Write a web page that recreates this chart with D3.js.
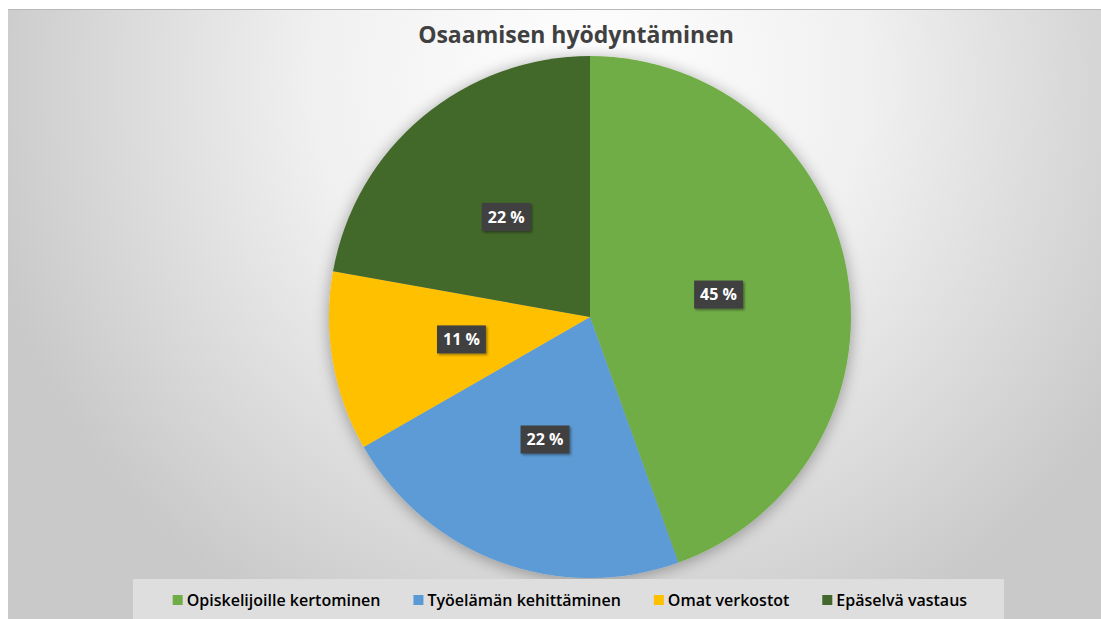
<!DOCTYPE html>
<html>
<head>
<meta charset="utf-8">
<script src="https://cdn.jsdelivr.net/npm/d3@7"></script>
<style>
  html, body { margin: 0; padding: 0; background: #fff; }
  svg { display: block; font-family: "Open Sans", "Noto Sans", sans-serif; }
</style>
</head>
<body>
<svg id="chart" width="1101" height="619"></svg>
<script>
const title = 'Osaamisen hyödyntäminen';
const categories = ['Opiskelijoille kertominen', 'Työelämän kehittäminen', 'Omat verkostot', 'Epäselvä vastaus'];
const values = [44.5, 22.2, 11.1, 22.2];
const labels = ['45 %', '22 %', '11 %', '22 %'];
const colors = ['#70ad47', '#5b9bd5', '#ffc000', '#43682b'];

const width = 1101, height = 619;
const svg = d3.select('#chart');
const defs = svg.append('defs');

// background gradient
const bg = defs.append('radialGradient')
  .attr('id', 'bg')
  .attr('gradientUnits', 'userSpaceOnUse')
  .attr('cx', 590).attr('cy', 80).attr('r', 620);
bg.append('stop').attr('offset', '0%').attr('stop-color', '#ffffff');
bg.append('stop').attr('offset', '45%').attr('stop-color', '#f0f0f0');
bg.append('stop').attr('offset', '100%').attr('stop-color', '#c9c9c9');

const shadow = defs.append('filter').attr('id', 'shadow')
  .attr('x', '-20%').attr('y', '-20%').attr('width', '140%').attr('height', '140%');
shadow.append('feGaussianBlur').attr('in', 'SourceAlpha').attr('stdDeviation', 8);
shadow.append('feOffset').attr('dx', 0).attr('dy', 2).attr('result', 'blur');
shadow.append('feComponentTransfer').append('feFuncA').attr('type', 'linear').attr('slope', 0.35);
const merge = shadow.append('feMerge');
merge.append('feMergeNode');
merge.append('feMergeNode').attr('in', 'SourceGraphic');

const lblShadow = defs.append('filter').attr('id', 'lblShadow')
  .attr('x', '-30%').attr('y', '-30%').attr('width', '160%').attr('height', '160%');
lblShadow.append('feDropShadow').attr('dx', 1.5).attr('dy', 1.5)
  .attr('stdDeviation', 1.2).attr('flood-color', '#000').attr('flood-opacity', 0.4);

svg.append('rect').attr('x', 8).attr('y', 9).attr('width', width - 8).attr('height', height - 9)
  .attr('fill', 'url(#bg)');
svg.append('line').attr('x1', 8).attr('x2', width).attr('y1', 9.5).attr('y2', 9.5)
  .attr('stroke', '#b8b8b8').attr('stroke-width', 1);

// title
svg.append('text')
  .attr('x', 576).attr('y', 43)
  .attr('text-anchor', 'middle')
  .style('font-size', '23px')
  .style('font-weight', 700)
  .style('fill', '#404040')
  .text(title);

// pie
const cx = 590, cy = 317, radius = 261;
const pie = d3.pie().sort(null).value(d => d);
const arc = d3.arc().innerRadius(0).outerRadius(radius);
const arcs = pie(values);

const g = svg.append('g').attr('transform', `translate(${cx},${cy})`);
g.append('g').attr('filter', 'url(#shadow)')
  .selectAll('path')
  .data(arcs)
  .enter().append('path')
  .attr('d', arc)
  .attr('fill', (d, i) => colors[i]);

// data labels
const lab = g.selectAll('.lbl')
  .data(arcs)
  .enter().append('g')
  .attr('class', 'lbl')
  .attr('transform', d => `translate(${arc.centroid(d)})`);

lab.each(function(d, i) {
  const el = d3.select(this);
  const rect = el.append('rect').attr('fill', '#404040').attr('filter', 'url(#lblShadow)');
  const t = el.append('text')
    .attr('text-anchor', 'middle')
    .attr('dy', '0.36em')
    .style('font-size', '16px')
    .style('font-weight', 700)
    .style('fill', '#ffffff')
    .text(labels[i]);
  const w = t.node().getComputedTextLength();
  rect.attr('x', -w / 2 - 6).attr('y', -14).attr('width', w + 12).attr('height', 28);
});

// legend
svg.append('rect').attr('x', 133).attr('y', 579).attr('width', 871).attr('height', 40)
  .attr('fill', '#dedede');

const legend = svg.append('g').attr('transform', 'translate(0,600)');
const items = legend.selectAll('.item')
  .data(categories)
  .enter().append('g')
  .attr('class', 'item');
items.append('rect')
  .attr('x', 0).attr('y', -5)
  .attr('width', 10).attr('height', 10)
  .attr('fill', (d, i) => colors[i]);
items.append('text')
  .attr('x', 14).attr('dy', '0.35em')
  .style('font-size', '16px')
  .style('font-weight', 600)
  .style('fill', '#000')
  .text(d => d);

const widths = [];
items.each(function() { widths.push(this.getBBox().width); });
const gap = 33;
const total = d3.sum(widths) + gap * (widths.length - 1);
let x0 = 570 - total / 2;
items.attr('transform', (d, i) => {
  const x = x0;
  x0 += widths[i] + gap;
  return `translate(${x},0)`;
});
</script>
</body>
</html>
